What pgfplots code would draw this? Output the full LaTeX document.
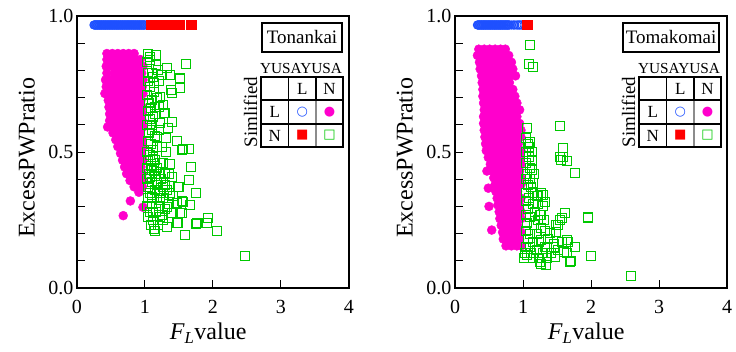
\documentclass[border=0pt]{standalone}
\usepackage{fontspec}
\setmainfont{Liberation Serif}
\newfontfamily\djv{DejaVu Sans}
\usepackage{pgfplots}
\pgfplotsset{compat=1.18}
\definecolor{cmag}{RGB}{255,0,204}
\definecolor{cgreen}{RGB}{0,200,0}
\definecolor{cblue}{RGB}{30,80,255}
\definecolor{cred}{RGB}{255,0,0}
\pgfplotsset{panel/.style={
  scale only axis, width=272pt, height=272pt,
  xmin=0, xmax=4, ymin=0, ymax=1,
  xtick={0,1,2,3,4}, xticklabels={0,1,2,3,4},
  ytick={0,0.5,1}, yticklabels={0.0,0.5,1.0},
  minor ytick={0.1,0.2,0.3,0.4,0.6,0.7,0.8,0.9},
  tick pos=left, tick align=inside,
  major tick length=8pt, minor tick length=8pt,
  every tick/.style={black, line width=1pt},
  axis line style={line width=2.6pt},
  /pgf/number format/assume math mode=true,
  ticklabel style={font=\fontsize{20}{24}\selectfont},
  xticklabel shift=9pt,
  xlabel={\textit{F}\textsubscript{\textit{L}}value},
  ylabel={ExcessPWPratio},
  every axis x label/.style={at={(axis description cs:0.482,-0.165)}, anchor=center, font=\fontsize{24}{28}\selectfont},
  every axis y label/.style={at={(axis description cs:-0.184,0.478)}, anchor=center, rotate=90, font=\fontsize{24}{28}\selectfont},
  clip=false,
  after end axis/.code={\draw[line width=2.6pt] (rel axis cs:0,0) rectangle (rel axis cs:1,1);},
},
pblue/.style={only marks, mark=o, mark size=4.2pt, color=cblue, mark options={line width=0.9pt}},
pred/.style={only marks, mark=square*, mark size=4.5pt, color=cred},
pmag/.style={only marks, mark=*, mark size=4.5pt, color=cmag},
pgreen/.style={only marks, mark=square, mark size=4.5pt, color=cgreen, mark options={line width=1pt}},
}
\newcommand{\legtable}[3]{%
  \node[draw, line width=2pt, minimum width=#3, minimum height=29pt, inner sep=0pt, font=\fontsize{19}{19}\selectfont] at (#2,250.5pt) {#1};
  \node[font=\fontsize{15.3}{15}\selectfont] at (224pt,219.7pt) {YUSAYUSA};
  \node[rotate=90, font=\fontsize{19}{19}\selectfont] at (173.5pt,176pt) {Simlified};
  \draw[line width=1.5pt] (211.5pt,141pt) -- (211.5pt,211pt);
  \draw[line width=1.5pt] (239pt,188pt) -- (239pt,211pt);
  \draw[line width=1.5pt, black!45] (239pt,141pt) -- (239pt,188pt);
  \draw[line width=1.5pt] (184pt,188pt) -- (266pt,188pt);
  \draw[line width=1.5pt] (184pt,164pt) -- (266pt,164pt);
  \draw[line width=2pt] (184pt,141pt) rectangle (266pt,211pt);
  \node[font=\fontsize{17}{17}\selectfont] at (225.25pt,199.5pt) {L};
  \node[font=\fontsize{17}{17}\selectfont] at (252.5pt,199.5pt) {N};
  \node[font=\fontsize{17}{17}\selectfont] at (197.75pt,176pt) {L};
  \node[font=\fontsize{17}{17}\selectfont] at (197.75pt,152.5pt) {N};
  \node[font=\djv\fontsize{13}{13}\selectfont, text=cblue] at (225.25pt,176pt) {○};
  \node[font=\djv\fontsize{13}{13}\selectfont, text=cmag] at (252.5pt,176pt) {●};
  \node[font=\djv\fontsize{13}{13}\selectfont, text=cred] at (225.25pt,152.5pt) {■};
  \node[font=\djv\fontsize{13}{13}\selectfont, text=cgreen] at (252.5pt,152.5pt) {□};
}
\begin{document}
\begin{tikzpicture}
\path[use as bounding box] (-77pt,-63pt) rectangle (659pt,288pt);
% ---------------- Left panel: Tonankai ----------------
\begin{axis}[panel, at={(0pt,0pt)}, anchor=south west]
\addplot[pblue] coordinates {
(0.25,0.967)(0.26,0.967)(0.27,0.967)(0.28,0.967)(0.29,0.967)(0.30,0.967)(0.31,0.967)(0.32,0.967)(0.33,0.967)(0.34,0.967)
(0.35,0.967)(0.36,0.967)(0.37,0.967)(0.38,0.967)(0.39,0.967)(0.40,0.967)(0.41,0.967)(0.42,0.967)(0.43,0.967)(0.44,0.967)
(0.45,0.967)(0.46,0.967)(0.47,0.967)(0.48,0.967)(0.49,0.967)(0.50,0.967)(0.51,0.967)(0.52,0.967)(0.53,0.967)(0.54,0.967)
(0.55,0.967)(0.56,0.967)(0.57,0.967)(0.58,0.967)(0.59,0.967)(0.60,0.967)(0.61,0.967)(0.62,0.967)(0.63,0.967)(0.64,0.967)
(0.65,0.967)(0.66,0.967)(0.67,0.967)(0.68,0.967)(0.69,0.967)(0.70,0.967)(0.71,0.967)(0.72,0.967)(0.73,0.967)(0.74,0.967)
(0.75,0.967)(0.76,0.967)(0.77,0.967)(0.78,0.967)(0.79,0.967)(0.80,0.967)(0.81,0.967)(0.82,0.967)(0.83,0.967)(0.84,0.967)
(0.85,0.967)(0.86,0.967)(0.87,0.967)(0.88,0.967)(0.89,0.967)(0.90,0.967)(0.91,0.967)(0.92,0.967)(0.93,0.967)(0.94,0.967)
(0.95,0.967)(0.96,0.967)(0.97,0.967)(0.98,0.967)(0.99,0.967)(1.00,0.967)
};
\addplot[pred] coordinates {
(1.09,0.967)(1.11,0.967)(1.13,0.967)(1.15,0.967)(1.17,0.967)(1.19,0.967)(1.21,0.967)(1.23,0.967)(1.25,0.967)(1.27,0.967)
(1.29,0.967)(1.31,0.967)(1.33,0.967)(1.35,0.967)(1.37,0.967)(1.39,0.967)(1.41,0.967)(1.43,0.967)(1.45,0.967)(1.47,0.967)
(1.49,0.967)(1.51,0.967)(1.665,0.967)(1.68,0.967)
};
\addplot[pmag] coordinates {
(0.44,0.862)(0.52,0.862)(0.60,0.862)(0.68,0.862)(0.76,0.862)(0.84,0.862)
(0.44,0.840)(0.54,0.840)(0.62,0.840)(0.70,0.840)(0.78,0.840)(0.86,0.840)(0.93,0.840)
(0.43,0.815)(0.52,0.815)(0.60,0.815)(0.68,0.815)(0.76,0.815)(0.84,0.815)(0.92,0.815)(0.97,0.815)
(0.44,0.790)(0.55,0.790)(0.63,0.790)(0.71,0.790)(0.79,0.790)(0.87,0.790)(0.95,0.790)
(0.42,0.765)(0.50,0.765)(0.58,0.765)(0.66,0.765)(0.74,0.765)(0.82,0.765)(0.90,0.765)(0.97,0.765)
(0.43,0.740)(0.51,0.740)(0.59,0.740)(0.67,0.740)(0.75,0.740)(0.83,0.740)(0.91,0.740)(0.96,0.740)
(0.41,0.715)(0.49,0.715)(0.57,0.715)(0.65,0.715)(0.73,0.715)(0.81,0.715)(0.89,0.715)(0.97,0.715)
(0.46,0.690)(0.54,0.690)(0.62,0.690)(0.70,0.690)(0.78,0.690)(0.86,0.690)(0.94,0.690)
(0.47,0.665)(0.55,0.665)(0.63,0.665)(0.71,0.665)(0.79,0.665)(0.87,0.665)(0.96,0.665)
(0.48,0.640)(0.56,0.640)(0.64,0.640)(0.72,0.640)(0.80,0.640)(0.88,0.640)(0.96,0.640)
(0.48,0.615)(0.56,0.615)(0.64,0.615)(0.72,0.615)(0.80,0.615)(0.88,0.615)(0.96,0.615)
(0.45,0.592)(0.52,0.592)(0.60,0.592)(0.68,0.592)(0.76,0.592)(0.84,0.592)(0.92,0.592)(0.97,0.592)
(0.53,0.570)(0.61,0.570)(0.69,0.570)(0.77,0.570)(0.85,0.570)(0.93,0.570)
(0.57,0.545)(0.65,0.545)(0.73,0.545)(0.81,0.545)(0.89,0.545)(0.96,0.545)
(0.60,0.520)(0.68,0.520)(0.76,0.520)(0.84,0.520)(0.92,0.520)(0.97,0.520)
(0.64,0.495)(0.72,0.495)(0.80,0.495)(0.88,0.495)(0.95,0.495)
(0.67,0.470)(0.75,0.470)(0.83,0.470)(0.91,0.470)(0.97,0.470)
(0.70,0.445)(0.78,0.445)(0.86,0.445)(0.94,0.445)
(0.73,0.420)(0.81,0.420)(0.89,0.420)(0.96,0.420)
(0.78,0.395)(0.86,0.395)(0.93,0.395)(0.97,0.395)
(0.84,0.372)(0.91,0.372)(0.96,0.372)
(0.91,0.352)
(0.785,0.320)(0.97,0.297)(0.68,0.266)
};
\addplot[pgreen] coordinates {
(1.16,0.857)(1.07,0.850)(1.61,0.823)(1.32,0.808)(1.19,0.800)(1.37,0.783)(1.52,0.770)(1.12,0.777)(1.25,0.783)
(1.52,0.735)(1.39,0.718)(1.13,0.753)(1.22,0.703)(1.10,0.691)(1.27,0.673)(1.15,0.667)(1.28,0.643)(1.39,0.611)
(1.12,0.630)(1.22,0.606)(1.34,0.588)(1.10,0.581)(1.31,0.551)(1.17,0.556)(1.47,0.541)(1.56,0.510)(1.64,0.510)
(1.25,0.520)(1.12,0.507)(1.67,0.446)(1.37,0.456)(1.22,0.459)(1.10,0.434)(1.29,0.422)(1.39,0.409)(1.65,0.397)
(1.49,0.372)(1.75,0.348)(1.17,0.385)(1.07,0.409)(1.27,0.372)(1.37,0.348)(1.56,0.317)(1.66,0.305)(1.47,0.311)
(1.10,0.336)(1.22,0.324)(1.32,0.299)(1.51,0.277)(1.39,0.275)(1.12,0.275)(1.25,0.268)(1.92,0.256)(1.91,0.240)
(1.76,0.238)(1.47,0.238)(1.32,0.226)(1.13,0.216)(2.06,0.210)(1.59,0.195)(1.14,0.210)(1.48,0.240)(2.47,0.119)
(1.51,0.771)(1.38,0.728)(1.20,0.667)(1.29,0.645)(1.55,0.507)(1.50,0.370)(1.54,0.320)(1.55,0.274)(1.75,0.235)
(1.03,0.83)(1.05,0.79)(1.04,0.76)(1.08,0.74)(1.03,0.71)(1.06,0.68)(1.04,0.65)(1.08,0.62)(1.03,0.60)(1.06,0.57)
(1.04,0.54)(1.09,0.53)(1.03,0.50)(1.07,0.49)(1.12,0.48)(1.04,0.47)(1.15,0.47)(1.09,0.45)(1.03,0.44)(1.18,0.44)
(1.13,0.43)(1.06,0.42)(1.21,0.42)(1.15,0.41)(1.03,0.40)(1.10,0.39)(1.24,0.40)(1.19,0.38)(1.05,0.37)(1.14,0.36)
(1.30,0.38)(1.08,0.35)(1.22,0.35)(1.04,0.33)(1.17,0.33)(1.27,0.33)(1.11,0.31)(1.03,0.30)(1.20,0.30)(1.07,0.28)
(1.16,0.28)(1.29,0.29)(1.04,0.26)(1.12,0.25)(1.22,0.26)(1.09,0.23)(1.19,0.23)(1.27,0.25)(1.35,0.31)(1.41,0.34)
(1.33,0.36)(1.36,0.42)(1.26,0.46)(1.31,0.50)(1.18,0.52)(1.14,0.56)(1.20,0.58)(1.11,0.60)(1.15,0.64)(1.09,0.66)
(1.18,0.70)(1.13,0.72)(1.21,0.76)(1.10,0.79)(1.16,0.82)(1.08,0.84)(1.05,0.86)
};
\end{axis}
\legtable{Tonankai}{225pt}{80pt}
% ---------------- Right panel: Tomakomai ----------------
\begin{axis}[panel, at={(378pt,0pt)}, anchor=south west]
\addplot[pblue] coordinates {
(0.33,0.967)(0.34,0.967)(0.35,0.967)(0.36,0.967)(0.37,0.967)(0.38,0.967)(0.39,0.967)(0.40,0.967)(0.41,0.967)(0.42,0.967)
(0.43,0.967)(0.44,0.967)(0.45,0.967)(0.46,0.967)(0.47,0.967)(0.48,0.967)(0.49,0.967)(0.50,0.967)(0.51,0.967)(0.52,0.967)
(0.53,0.967)(0.54,0.967)(0.55,0.967)(0.56,0.967)(0.57,0.967)(0.58,0.967)(0.59,0.967)(0.60,0.967)(0.61,0.967)(0.62,0.967)
(0.63,0.967)(0.64,0.967)(0.65,0.967)(0.66,0.967)(0.67,0.967)(0.68,0.967)(0.69,0.967)(0.70,0.967)(0.71,0.967)(0.72,0.967)
(0.73,0.967)(0.74,0.967)(0.75,0.967)(0.76,0.967)(0.77,0.967)(0.78,0.967)(0.79,0.967)(0.80,0.967)
(0.83,0.967)(0.86,0.967)(0.88,0.967)(0.91,0.967)(0.93,0.967)(0.95,0.967)(0.97,0.967)(0.99,0.967)
};
\addplot[pred] coordinates {(1.05,0.967)(1.06,0.967)(1.07,0.967)};
\addplot[pmag] coordinates {
(0.35,0.878)(0.43,0.878)(0.51,0.878)(0.59,0.878)(0.67,0.878)(0.74,0.878)
(0.33,0.855)(0.41,0.855)(0.49,0.855)(0.57,0.855)(0.65,0.855)(0.73,0.855)(0.79,0.855)
(0.36,0.830)(0.44,0.830)(0.52,0.830)(0.60,0.830)(0.68,0.830)(0.76,0.830)(0.83,0.830)
(0.37,0.805)(0.45,0.805)(0.53,0.805)(0.61,0.805)(0.69,0.805)(0.77,0.805)(0.85,0.805)
(0.39,0.780)(0.47,0.780)(0.55,0.780)(0.63,0.780)(0.71,0.780)(0.79,0.780)(0.89,0.780)
(0.40,0.755)(0.48,0.755)(0.56,0.755)(0.64,0.755)(0.72,0.755)(0.80,0.755)
(0.41,0.730)(0.49,0.730)(0.57,0.730)(0.65,0.730)(0.73,0.730)(0.81,0.730)(0.85,0.730)
(0.41,0.705)(0.49,0.705)(0.57,0.705)(0.65,0.705)(0.73,0.705)(0.81,0.705)(0.88,0.705)
(0.42,0.680)(0.50,0.680)(0.58,0.680)(0.66,0.680)(0.74,0.680)(0.82,0.680)(0.91,0.680)
(0.43,0.655)(0.51,0.655)(0.59,0.655)(0.67,0.655)(0.75,0.655)(0.83,0.655)(0.90,0.655)(0.95,0.655)
(0.42,0.630)(0.50,0.630)(0.58,0.630)(0.66,0.630)(0.74,0.630)(0.82,0.630)(0.91,0.630)
(0.42,0.605)(0.50,0.605)(0.58,0.605)(0.66,0.605)(0.74,0.605)(0.82,0.605)(0.90,0.605)(0.95,0.605)
(0.43,0.580)(0.51,0.580)(0.59,0.580)(0.67,0.580)(0.75,0.580)(0.83,0.580)(0.91,0.580)(0.97,0.580)
(0.44,0.555)(0.52,0.555)(0.60,0.555)(0.68,0.555)(0.76,0.555)(0.84,0.555)(0.92,0.555)(0.97,0.555)
(0.45,0.530)(0.53,0.530)(0.61,0.530)(0.69,0.530)(0.77,0.530)(0.85,0.530)(0.93,0.530)
(0.46,0.505)(0.54,0.505)(0.62,0.505)(0.70,0.505)(0.78,0.505)(0.86,0.505)(0.94,0.505)(0.97,0.505)
(0.49,0.480)(0.57,0.480)(0.65,0.480)(0.73,0.480)(0.81,0.480)(0.89,0.480)(0.96,0.480)
(0.52,0.455)(0.60,0.455)(0.68,0.455)(0.76,0.455)(0.84,0.455)(0.92,0.455)(0.97,0.455)
(0.47,0.430)(0.55,0.430)(0.63,0.430)(0.71,0.430)(0.79,0.430)(0.87,0.430)(0.95,0.430)
(0.57,0.405)(0.65,0.405)(0.73,0.405)(0.81,0.405)(0.89,0.405)(0.97,0.405)
(0.59,0.380)(0.67,0.380)(0.75,0.380)(0.83,0.380)(0.91,0.380)(0.97,0.380)
(0.49,0.367)
(0.60,0.355)(0.68,0.355)(0.76,0.355)(0.84,0.355)(0.92,0.355)
(0.62,0.330)(0.70,0.330)(0.78,0.330)(0.86,0.330)(0.94,0.330)(0.97,0.330)
(0.63,0.305)(0.71,0.305)(0.79,0.305)(0.87,0.305)(0.95,0.305)
(0.50,0.300)
(0.65,0.280)(0.73,0.280)(0.81,0.280)(0.89,0.280)(0.97,0.280)
(0.66,0.255)(0.74,0.255)(0.82,0.255)(0.90,0.255)(0.97,0.255)
(0.68,0.230)(0.76,0.230)(0.84,0.230)(0.92,0.230)
(0.54,0.213)
(0.70,0.205)(0.78,0.205)(0.86,0.205)(0.94,0.205)(0.97,0.205)
(0.71,0.180)(0.79,0.180)(0.87,0.180)(0.95,0.180)
(0.75,0.155)(0.83,0.155)(0.91,0.155)(0.97,0.155)
};
\addplot[pgreen] coordinates {
(1.10,0.893)(1.09,0.822)(1.14,0.811)(1.06,0.587)(1.55,0.596)(1.59,0.514)(1.56,0.470)(1.64,0.468)(1.55,0.480)
(1.77,0.422)(1.62,0.274)(1.55,0.250)(1.96,0.260)(1.49,0.207)(1.39,0.201)(1.66,0.170)(1.76,0.150)(1.61,0.134)
(1.71,0.100)(2.00,0.118)(2.59,0.044)(1.41,0.128)(1.47,0.115)(1.27,0.176)(1.32,0.152)(1.34,0.085)(1.25,0.097)
(1.02,0.109)(1.12,0.128)(1.69,0.097)(1.59,0.483)(1.27,0.342)(1.32,0.317)(1.25,0.268)(1.45,0.152)(1.35,0.152)
(1.52,0.232)(1.27,0.090)(1.10,0.538)(1.13,0.470)(1.13,0.433)(1.09,0.500)(1.15,0.385)(1.30,0.342)(1.22,0.340)
(1.57,0.256)(1.95,0.259)(1.49,0.232)(1.40,0.204)(1.65,0.176)
(1.04,0.55)(1.07,0.53)(1.05,0.50)(1.09,0.48)(1.04,0.46)(1.10,0.44)(1.06,0.42)(1.04,0.40)(1.08,0.38)(1.12,0.37)
(1.05,0.35)(1.15,0.35)(1.20,0.34)(1.27,0.35)(1.09,0.33)(1.04,0.32)(1.14,0.31)(1.22,0.31)(1.30,0.30)(1.07,0.29)
(1.18,0.28)(1.26,0.27)(1.04,0.27)(1.11,0.26)(1.22,0.25)(1.31,0.25)(1.06,0.24)(1.16,0.23)(1.26,0.22)(1.04,0.21)
(1.11,0.20)(1.20,0.20)(1.33,0.21)(1.07,0.18)(1.15,0.17)(1.24,0.17)(1.37,0.18)(1.04,0.15)(1.10,0.15)(1.20,0.14)
(1.29,0.13)(1.06,0.12)(1.15,0.11)(1.24,0.11)(1.36,0.11)(1.03,0.13)(1.45,0.16)(1.52,0.14)(1.58,0.17)(1.64,0.13)
(1.11,0.40)(1.16,0.42)(1.13,0.47)(1.09,0.52)(1.13,0.50)
};
\end{axis}
\begin{scope}[xshift=378pt]
\legtable{Tomakomai}{216pt}{96pt}
\end{scope}
\end{tikzpicture}
\end{document}
